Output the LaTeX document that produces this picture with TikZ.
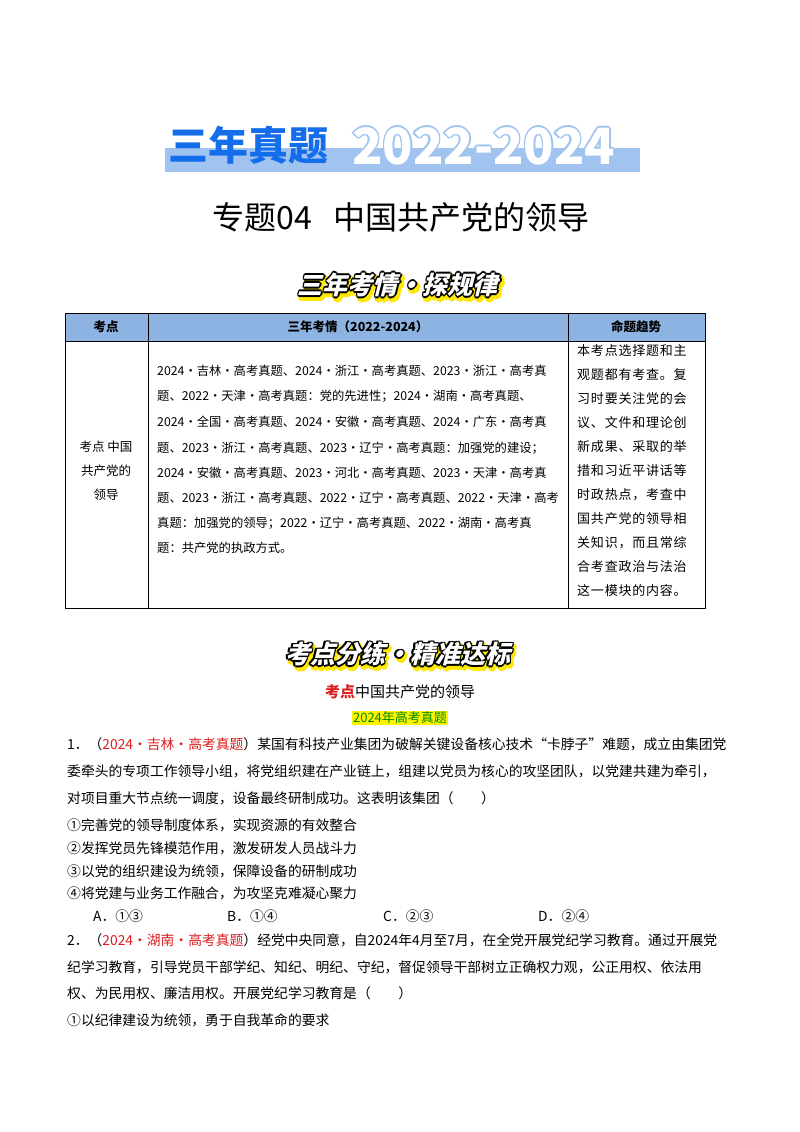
\documentclass[tikz,border=0pt]{standalone}
\usepackage{fontspec}
\usetikzlibrary{calc}
\setmainfont{Noto Sans CJK SC}
\newfontfamily\tbl[LetterSpace=0]{Noto Sans CJK SC}
\newfontfamily\tbr[LetterSpace=6]{Noto Sans CJK SC}
\newfontfamily\bdy[LetterSpace=0]{Noto Sans CJK SC}
\newcommand\hvy{\bfseries}
\definecolor{hdr}{RGB}{141,179,226}
\definecolor{tblue}{RGB}{20,110,235}
\definecolor{band}{RGB}{160,195,240}
\definecolor{redq}{RGB}{220,30,30}
\begin{document}
\begin{tikzpicture}[x=1pt,y=-1pt,
  ln/.style={anchor=west,inner sep=0pt,font=\bdy\fontsize{13.8}{14}\selectfont},
  tl/.style={anchor=west,inner sep=0pt,font=\tbl\fontsize{12.3}{13}\selectfont},
  tr/.style={anchor=west,inner sep=0pt,font=\tbr\fontsize{13}{13}\selectfont},
  cell/.style={draw=black,line width=0.6pt}]
\useasboundingbox (0,0) rectangle (800,1132);
\fill[white] (0,0) rectangle (800,1132);
% Title band
\fill[band] (165,148) rectangle (640,172);
\node[anchor=west,inner sep=0pt,text=tblue,font=\hvy\fontsize{40}{40}\selectfont] (t1) at (168,145) {三年真题};
\foreach \a in {0,45,...,315}{
  \node[anchor=west,inner sep=0pt,text=band,font=\hvy\fontsize{50}{50}\selectfont] at ($(352,146)+(\a:1.6)$) {2022-2024};}
\node[anchor=west,inner sep=0pt,text=white,font=\hvy\fontsize{50}{50}\selectfont] (t2) at (352,146) {2022-2024};
\node[inner sep=0pt,font=\fontsize{32}{32}\selectfont] (t3) at (401,217) {专题04\hspace{22pt}中国共产党的领导};
% banner 1
\foreach \a in {0,45,...,315}{
  \node[inner sep=0pt,text=yellow!90!orange,font=\hvy\fontsize{25}{25}\selectfont,xslant=0.25] at ($(402,288)+(\a:2.5)$) {三年考情·探规律};}
\foreach \a in {0,45,...,315}{
  \node[inner sep=0pt,text=black,font=\hvy\fontsize{25}{25}\selectfont,xslant=0.25] at ($(400,285)+(\a:1.6)$) {三年考情·探规律};}
\node[inner sep=0pt,text=white,font=\hvy\fontsize{25}{25}\selectfont,xslant=0.25] (b1) at (400,285) {三年考情·探规律};
% table
\fill[hdr] (65,313) rectangle (705,341);
\draw[cell] (65,313) rectangle (705,608);
\draw[cell] (65,341) -- (705,341);
\draw[cell] (148,313) -- (148,608);
\draw[cell] (568,313) -- (568,608);
\node[font=\bfseries\fontsize{12.5}{13}\selectfont] (h1) at (106,327) {考点};
\node[font=\bfseries\fontsize{12.5}{13}\selectfont] (h2) at (358,327) {三年考情（2022-2024）};
\node[font=\bfseries\fontsize{12.5}{13}\selectfont] (h3) at (636,327) {命题趋势};
\node[inner sep=0pt,font=\tbl\fontsize{12.5}{13}\selectfont] (c1) at (106,447) {考点 中国};
\node[inner sep=0pt,font=\tbl\fontsize{12.5}{13}\selectfont] (c2) at (106,471) {共产党的};
\node[inner sep=0pt,font=\tbl\fontsize{12.5}{13}\selectfont] (c3) at (106,495) {领导};
\node[tl] (m1) at (157,371) {2024·吉林·高考真题、2024·浙江·高考真题、2023·浙江·高考真};
\node[tl] (m2) at (157,396) {题、2022·天津·高考真题：党的先进性；2024·湖南·高考真题、};
\node[tl] (m3) at (157,422) {2024·全国·高考真题、2024·安徽·高考真题、2024·广东·高考真};
\node[tl] (m4) at (157,448) {题、2023·浙江·高考真题、2023·辽宁·高考真题：加强党的建设；};
\node[tl] (m5) at (157,473) {2024·安徽·高考真题、2023·河北·高考真题、2023·天津·高考真};
\node[tl] (m6) at (157,498) {题、2023·浙江·高考真题、2022·辽宁·高考真题、2022·天津·高考};
\node[tl] (m7) at (157,523) {真题：加强党的领导；2022·辽宁·高考真题、2022·湖南·高考真};
\node[tl] (m8) at (157,548) {题：共产党的执政方式。};
\foreach \t [count=\i from 0] in {本考点选择题和主,观题都有考查。复,习时要关注党的会,议、文件和理论创,新成果、采取的举,措和习近平讲话等,时政热点，考查中,国共产党的领导相,关知识，而且常综,合考查政治与法治,这一模块的内容。}{
  \node[tr] (r\i) at (577,{351+24*\i}) {\t};}
% banner 2
\foreach \a in {0,45,...,315}{
  \node[inner sep=0pt,text=yellow!90!orange,font=\hvy\fontsize{25}{25}\selectfont,xslant=0.25] at ($(402,657)+(\a:2.5)$) {考点分练·精准达标};}
\foreach \a in {0,45,...,315}{
  \node[inner sep=0pt,text=black,font=\hvy\fontsize{25}{25}\selectfont,xslant=0.25] at ($(400,654)+(\a:1.6)$) {考点分练·精准达标};}
\node[inner sep=0pt,text=white,font=\hvy\fontsize{25}{25}\selectfont,xslant=0.25] (b2) at (400,654) {考点分练·精准达标};
\node[inner sep=0pt,font=\fontsize{15}{15}\selectfont] (s1) at (400,692) {\textcolor{redq}{\bfseries 考点}中国共产党的领导};
\node[inner sep=1pt,fill=yellow,text=green!55!black,font=\fontsize{13}{13}\selectfont] (s2) at (400,718) {2024年高考真题};
% question 1
\node[ln] (q1a) at (67,744) {1．（\textcolor{redq}{2024·吉林·高考真题}）某国有科技产业集团为破解关键设备核心技术“卡脖子”难题，成立由集团党};
\node[ln] (q1b) at (67,771) {委牵头的专项工作领导小组，将党组织建在产业链上，组建以党员为核心的攻坚团队，以党建共建为牵引，};
\node[ln] (q1c) at (67,798) {对项目重大节点统一调度，设备最终研制成功。这表明该集团（\hspace{2em}）};
\node[ln] (o1) at (67,825) {①完善党的领导制度体系，实现资源的有效整合};
\node[ln] (o2) at (67,848) {②发挥党员先锋模范作用，激发研发人员战斗力};
\node[ln] (o3) at (67,871) {③以党的组织建设为统领，保障设备的研制成功};
\node[ln] (o4) at (67,893) {④将党建与业务工作融合，为攻坚克难凝心聚力};
\node[ln] (ca) at (93,916) {A．①③};
\node[ln] (cb) at (227,916) {B．①④};
\node[ln] (cc) at (383,916) {C．②③};
\node[ln] (cd) at (538,916) {D．②④};
% question 2
\node[ln] (q2a) at (67,940) {2．（\textcolor{redq}{2024·湖南·高考真题}）经党中央同意，自2024年4月至7月，在全党开展党纪学习教育。通过开展党};
\node[ln] (q2b) at (67,967) {纪学习教育，引导党员干部学纪、知纪、明纪、守纪，督促领导干部树立正确权力观，公正用权、依法用};
\node[ln] (q2c) at (67,993) {权、为民用权、廉洁用权。开展党纪学习教育是（\hspace{2em}）};
\node[ln] (p1) at (67,1020) {①以纪律建设为统领，勇于自我革命的要求};
\end{tikzpicture}
\end{document}
